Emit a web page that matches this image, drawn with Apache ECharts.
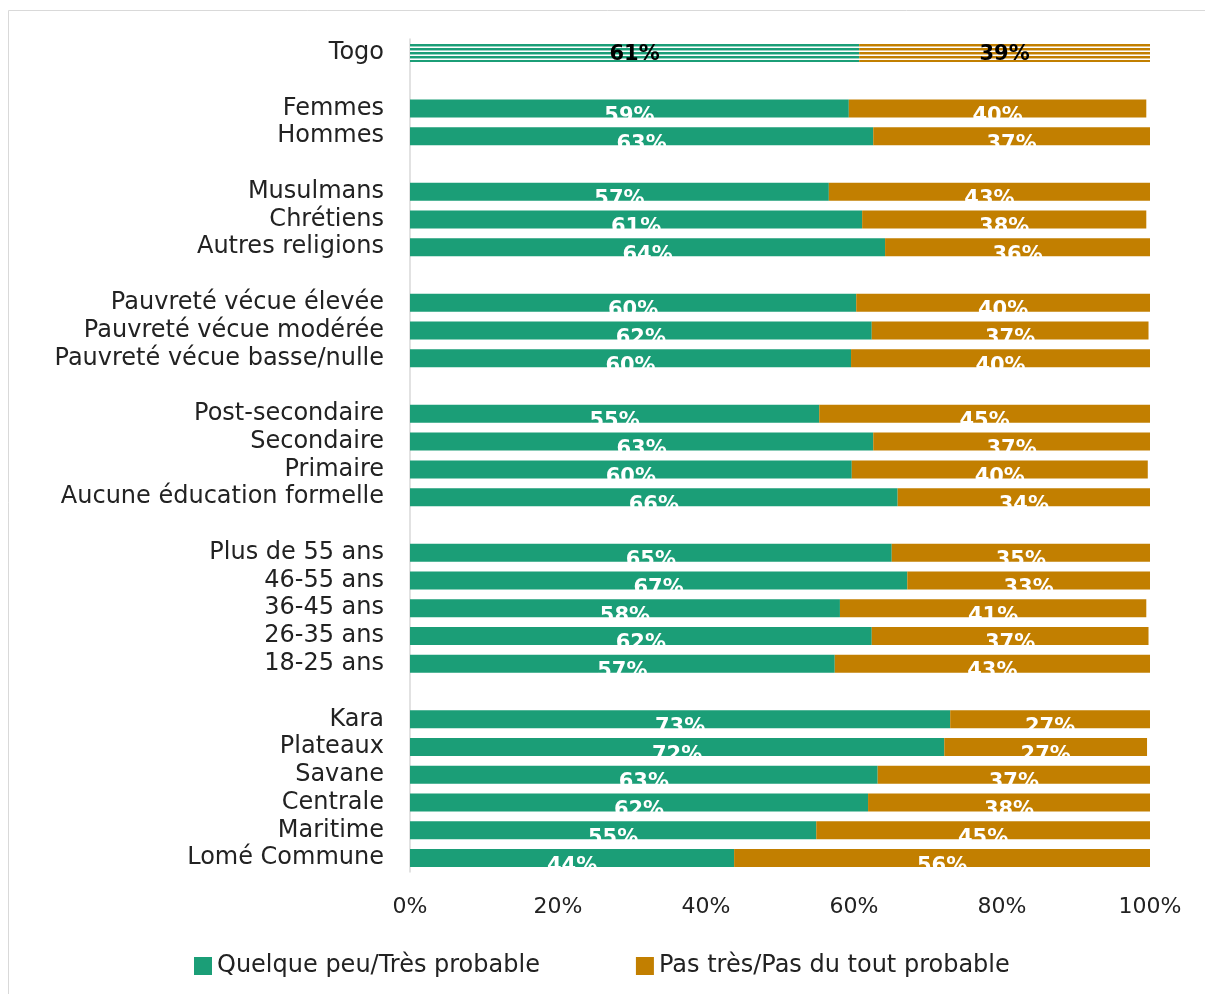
<!DOCTYPE html>
<html><head><meta charset="utf-8">
<script src="https://cdn.jsdelivr.net/npm/echarts@6/dist/echarts.min.js"></script>
<style>html,body{margin:0;padding:0;background:#fff}#c{width:1205px;height:994px}</style>
</head><body><div id="c"></div>
<script>
const categories = ['Togo','', 'Femmes','Hommes','', 'Musulmans','Chrétiens','Autres religions','',
  'Pauvreté vécue élevée','Pauvreté vécue modérée','Pauvreté vécue basse/nulle','',
  'Post-secondaire','Secondaire','Primaire','Aucune éducation formelle','',
  'Plus de 55 ans','46-55 ans','36-45 ans','26-35 ans','18-25 ans','',
  'Kara','Plateaux','Savane','Centrale','Maritime','Lomé Commune'];
const probable = [60.7,null, 59.3,62.6,null, 56.6,61.1,64.2,null, 60.3,62.4,59.6,null,
  55.3,62.6,59.7,65.9,null, 65.1,67.2,58.1,62.4,57.4,null, 73.0,72.2,63.2,61.9,54.9,43.8];
const improbable = [39.3,null, 40.2,37.4,null, 43.4,38.4,35.8,null, 39.7,37.4,40.4,null,
  44.7,37.4,40.0,34.1,null, 34.9,32.8,41.4,37.4,42.6,null, 27.0,27.4,36.8,38.1,45.1,56.2];
const seriesNames = ['Quelque peu/Très probable','Pas très/Pas du tout probable'];
const xTicks = [0,20,40,60,80,100];

const GREEN = '#1b9e77', ORANGE = '#c27f00';
function stripe(col){
  const cv = document.createElement('canvas'); cv.width = 4; cv.height = 4;
  const g = cv.getContext('2d');
  g.fillStyle = '#ffffff'; g.fillRect(0,0,4,4);
  g.fillStyle = col; g.fillRect(0,0,4,2);
  g.globalAlpha = 0.45; g.fillRect(0,2,4,1);
  return {image: cv, repeat: 'repeat'};
}
const FONT = 'DejaVu Sans';
function build(vals, col){
  return vals.map((v,i)=>{
    if (v === null) return '-';
    if (i === 0) return {value: v, itemStyle:{color: stripe(col)}, label:{color:'#000', offset:[0,2]}};
    return v;
  });
}
const lbl = {show:true, position:'inside', color:'#fff', fontFamily:FONT, fontWeight:'bold', fontSize:21,
  offset:[0,8], formatter: p => Math.round(p.value) + '%'};
const chart = echarts.init(document.getElementById('c'), null, {renderer:'canvas'});
chart.setOption({
  animation:false,
  textStyle:{fontFamily:FONT},
  graphic:[{type:'rect', shape:{x:8.5,y:10.5,width:1200,height:990}, style:{fill:'none', stroke:'#d9d9d9', lineWidth:1}, silent:true}],
  grid:{left:410, right:55, top:39, bottom:122, containLabel:false},
  legend:{data:seriesNames, left:189, top:949, itemWidth:18, itemHeight:18, itemGap:96, icon:'rect',
    itemStyle:{borderWidth:0},
    textStyle:{fontFamily:FONT, fontSize:24, color:'#222'}},
  xAxis:{type:'value', min:0, max:100, interval:20,
    axisLine:{show:false}, axisTick:{show:false}, splitLine:{show:false},
    axisLabel:{formatter:'{value}%', fontSize:22, color:'#222', margin:24, fontFamily:FONT}},
  yAxis:{type:'category', data:categories, inverse:true,
    axisLine:{show:true, lineStyle:{color:'#d9d9d9', width:1.5}}, axisTick:{show:false},
    axisLabel:{interval:0, fontSize:24, color:'#222', margin:26, fontFamily:FONT, padding:[4,0,0,0]}},
  series:[
    {name:seriesNames[0], type:'bar', stack:'t', data:build(probable, GREEN), barWidth:18,
      itemStyle:{color:GREEN}, label:lbl},
    {name:seriesNames[1], type:'bar', stack:'t', data:build(improbable, ORANGE), barWidth:18,
      itemStyle:{color:ORANGE}, label:lbl}
  ]
});
</script></body></html>
